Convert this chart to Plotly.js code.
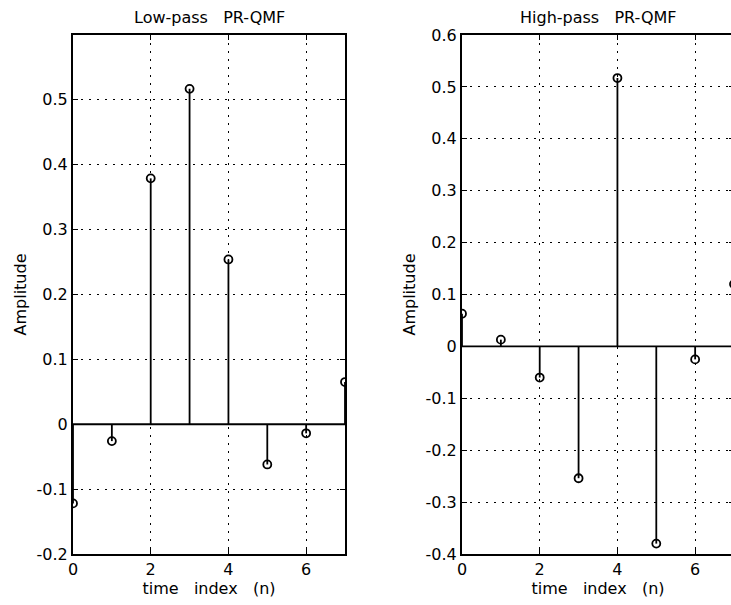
<!DOCTYPE html>
<html>
<head>
<meta charset="utf-8">
<script src="https://cdn.plot.ly/plotly-3.0.1.min.js"></script>
<style>
html,body{margin:0;padding:0;overflow:hidden;background:#fff;}
#chart{width:740px;height:605px;}
</style>
</head>
<body>
<div id="chart"></div>
<script>
// ---- data ----
const n = [0, 1, 2, 3, 4, 5, 6, 7];
const lowpass  = [-0.122, -0.026, 0.379, 0.517, 0.254, -0.062, -0.014, 0.065];
const highpass = [0.063, 0.013, -0.060, -0.254, 0.517, -0.380, -0.025, 0.120];
const xTickVals = [0, 2, 4, 6];
const xTickText = ["0", "2", "4", "6"];
const yTickValsLow = [-0.2, -0.1, 0, 0.1, 0.2, 0.3, 0.4, 0.5];
const yTickTextLow = ["-0.2", "-0.1", "0", "0.1", "0.2", "0.3", "0.4", "0.5"];
const yTickValsHigh = [-0.4, -0.3, -0.2, -0.1, 0, 0.1, 0.2, 0.3, 0.4, 0.5, 0.6];
const yTickTextHigh = ["-0.4", "-0.3", "-0.2", "-0.1", "0", "0.1", "0.2", "0.3", "0.4", "0.5", "0.6"];
const titleLow = "Low-pass\u00A0\u00A0\u00A0PR-QMF";
const titleHigh = "High-pass\u00A0\u00A0\u00A0PR-QMF";
const xLabel = "time\u00A0\u00A0\u00A0index\u00A0\u00A0\u00A0(n)";
const yLabel = "Amplitude";

const FONT = "DejaVu Sans, Liberation Sans, Arial, sans-serif";
const FS = 16;
const W = 740, H = 605;

function stems(vals, xa, ya) {
  const xs = [], ys = [];
  vals.forEach((v, i) => { xs.push(n[i], n[i], null); ys.push(0, v, null); });
  return [
    {x: [Math.min(...n), Math.max(...n)], y: [0, 0], mode: 'lines', xaxis: xa, yaxis: ya,
     line: {color: '#000', width: 1.8}, hoverinfo: 'skip', showlegend: false},
    {x: xs, y: ys, mode: 'lines', xaxis: xa, yaxis: ya,
     line: {color: '#000', width: 1.8}, hoverinfo: 'skip', showlegend: false},
    {x: n, y: vals, mode: 'markers', xaxis: xa, yaxis: ya, showlegend: false,
     marker: {symbol: 'circle-open', size: 8, color: '#000', line: {width: 1.8, color: '#000'}}}
  ];
}

const data = [...stems(lowpass, 'x', 'y'), ...stems(highpass, 'x2', 'y2')];

const xBase = {
  range: [0, 7], tickvals: xTickVals, ticktext: xTickText,
  showgrid: true, gridcolor: '#000', gridwidth: 1, griddash: '2px,6px',
  zeroline: false, showline: true, linecolor: '#000', linewidth: 2, mirror: 'ticks',
  ticks: 'inside', ticklen: 5, tickcolor: '#000', tickwidth: 1,
  tickfont: {family: FONT, size: FS, color: '#000'},
  title: {text: xLabel, font: {family: FONT, size: FS, color: '#000'}, standoff: 0}
};
const yBase = {
  showgrid: true, gridcolor: '#000', gridwidth: 1, griddash: '2px,6px',
  zeroline: false, showline: true, linecolor: '#000', linewidth: 2, mirror: 'ticks',
  ticks: 'inside', ticklen: 5, tickcolor: '#000', tickwidth: 1,
  tickfont: {family: FONT, size: FS, color: '#000'},
  title: {text: yLabel, font: {family: FONT, size: FS, color: '#000'}, standoff: 6}
};

const yDom = [(H - 554) / H, (H - 35) / H];

const layout = {
  width: W, height: H,
  margin: {l: 0, r: 0, t: 0, b: 0},
  paper_bgcolor: '#fff', plot_bgcolor: '#fff',
  showlegend: false,
  xaxis: Object.assign({}, xBase, {domain: [73 / W, 345 / W], anchor: 'y'}),
  yaxis: Object.assign({}, yBase, {domain: yDom, range: [-0.2, 0.6], tickvals: yTickValsLow, ticktext: yTickTextLow, anchor: 'x'}),
  xaxis2: Object.assign({}, xBase, {domain: [462 / W, 734 / W], anchor: 'y2'}),
  yaxis2: Object.assign({}, yBase, {domain: yDom, range: [-0.4, 0.6], tickvals: yTickValsHigh, ticktext: yTickTextHigh, anchor: 'x2'}),
  annotations: [
    {text: titleLow, xref: 'paper', yref: 'paper', x: (73 + 345) / 2 / W, y: (H - 17) / H,
     xanchor: 'center', yanchor: 'middle', showarrow: false, font: {family: FONT, size: FS, color: '#000'}},
    {text: titleHigh, xref: 'paper', yref: 'paper', x: (462 + 734) / 2 / W, y: (H - 17) / H,
     xanchor: 'center', yanchor: 'middle', showarrow: false, font: {family: FONT, size: FS, color: '#000'}}
  ]
};

Plotly.newPlot('chart', data, layout, {staticPlot: true, displayModeBar: false});
</script>
</body>
</html>
